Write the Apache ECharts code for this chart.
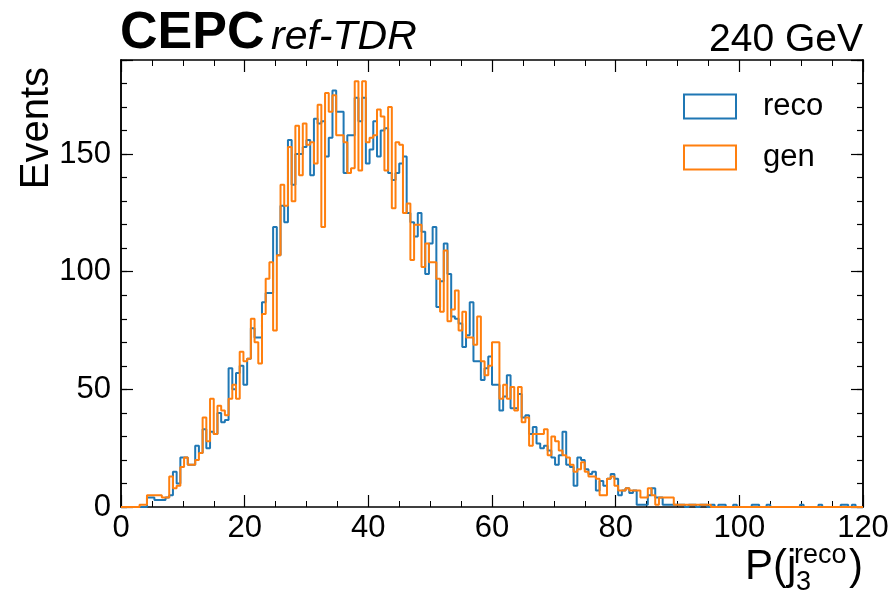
<!DOCTYPE html>
<html><head><meta charset="utf-8">
<script src="https://cdn.jsdelivr.net/npm/echarts@6/dist/echarts.min.js"></script>
<style>html,body{margin:0;padding:0;background:#fff}#c{width:895px;height:593px}</style>
</head><body><div id="c"></div>
<script>
const BIN_WIDTH = 0.6;
const X_MIN = 0, X_MAX = 120;
const Y_MIN = 0, Y_MAX = 190;
const xTicks = [0, 20, 40, 60, 80, 100, 120];
const yTicks = [0, 50, 100, 150];
const seriesNames = ['reco', 'gen'];

const recoCounts = [
  0,0,0,0,0,0,0,4,4,3,
  3,3,4,5,15,10,21,21,18,18,
  26,23,33,25,32,31,40,36,37,59,
  50,57,60,52,63,76,72,72,87,91,
  91,119,107,128,121,156,137,150,150,153,
  156,141,165,163,164,149,157,177,168,168,
  142,158,158,174,164,174,146,152,164,149,
  160,161,142,139,142,146,149,125,121,115,
  125,117,99,112,119,85,96,112,99,81,
  80,78,68,73,87,62,62,54,59,64,
  52,52,41,47,56,42,42,48,38,39,
  31,34,27,25,26,24,21,18,22,32,
  18,17,9,21,20,16,14,15,7,11,
  9,12,14,12,5,7,8,6,7,1,
  1,1,5,8,4,4,1,1,1,1,
  1,1,0,1,1,0,1,1,0,1,
  0,1,1,0,0,1,0,0,0,0,
  1,1,0,0,1,0,0,0,0,0,
  0,0,0,1,0,0,0,0,1,0,
  0,0,0,0,1,1,0,1,0,0
];

const genCounts = [
  0,0,0,0,0,1,1,5,5,5,
  5,4,4,13,8,9,17,21,18,18,
  20,23,38,28,46,31,43,41,39,46,
  52,46,66,62,63,80,70,61,82,97,
  104,75,107,137,128,153,130,162,141,163,
  154,155,146,171,119,176,168,175,158,158,
  155,142,144,181,143,181,155,157,158,169,
  166,143,170,127,155,154,125,129,105,120,
  120,102,112,104,104,97,83,109,79,84,
  92,75,83,72,72,69,81,62,56,60,
  70,70,46,52,46,51,41,51,36,38,
  26,31,31,31,33,22,30,28,24,22,
  21,18,15,16,19,15,13,13,12,5,
  5,12,13,9,7,7,8,7,7,7,
  4,4,8,5,1,4,4,4,4,1,
  1,1,1,1,1,1,1,1,1,0,
  0,0,0,0,0,0,0,0,0,0,
  0,0,0,0,0,0,0,0,0,0,
  0,0,0,0,0,0,0,0,0,0,
  0,0,0,0,0,0,0,0,0,0
];

const COLORS = { reco: '#1f77b4', gen: '#ff7f0e' };
const FONT = '"Liberation Sans", Arial, sans-serif';

function toSteps(counts) {
  const pts = counts.map((v, i) => [Math.round(i * BIN_WIDTH * 100) / 100, v]);
  pts.push([X_MAX, counts[counts.length - 1]]);
  return pts;
}

function xAx(pos, labels) {
  return {
    type: 'value', position: pos, min: X_MIN, max: X_MAX, interval: 20,
    axisLine: { show: true, onZero: false, lineStyle: { color: '#000', width: 1.5 } },
    axisTick: { show: true, inside: true, length: 12, lineStyle: { color: '#000', width: 1.2 } },
    minorTick: { show: true, splitNumber: 4, length: 6, lineStyle: { color: '#000', width: 1 } },
    splitLine: { show: false }, minorSplitLine: { show: false },
    axisLabel: { show: labels, color: '#000', fontSize: 31, fontFamily: FONT, margin: 6,
      formatter: v => xTicks.includes(v) ? String(v) : '' }
  };
}
function yAx(pos, interval, tickLen, labels) {
  return {
    type: 'value', position: pos, min: Y_MIN, max: Y_MAX, interval: interval,
    axisLine: { show: true, onZero: false, lineStyle: { color: '#000', width: 1.5 } },
    axisTick: { show: true, inside: true, length: tickLen, lineStyle: { color: '#000', width: 1.2 } },
    splitLine: { show: false },
    axisLabel: { show: labels, interval: 0, color: '#000', fontSize: 31, fontFamily: FONT, margin: 10,
      formatter: v => yTicks.includes(v) ? String(v) : '' }
  };
}

const chart = echarts.init(document.getElementById('c'), null, { renderer: 'canvas' });
chart.setOption({
  animation: false,
  backgroundColor: '#fff',
  grid: { left: 121, right: 32, top: 60, bottom: 86, containLabel: false },
  xAxis: [xAx('bottom', true), xAx('top', false)],
  yAxis: [yAx('left', 10, 6, true), yAx('left', 50, 12, false), yAx('right', 10, 6, false), yAx('right', 50, 12, false)],
  legend: {
    orient: 'vertical', left: 683, top: 91, padding: 0, itemWidth: 52, itemHeight: 24, itemGap: 20,
    textStyle: { fontSize: 31, fontFamily: FONT, color: '#000', padding: [0, 0, 0, 22] },
    data: seriesNames.map(n => ({ name: n, icon: 'rect',
      itemStyle: { color: 'rgba(0,0,0,0)', borderColor: COLORS[n], borderWidth: 2 } }))
  },
  series: [
    { type: 'line', name: 'reco', step: 'end', xAxisIndex: 0, yAxisIndex: 0, data: toSteps(recoCounts),
      symbol: 'none', showSymbol: false, lineStyle: { color: COLORS.reco, width: 2 }, itemStyle: { color: COLORS.reco } },
    { type: 'line', name: 'gen', step: 'end', xAxisIndex: 0, yAxisIndex: 0, data: toSteps(genCounts),
      symbol: 'none', showSymbol: false, lineStyle: { color: COLORS.gen, width: 2 }, itemStyle: { color: COLORS.gen } }
  ],
  graphic: [
    { type: 'text', x: 120, y: 34, style: { text: 'CEPC', font: 'bold 52px ' + FONT, fill: '#000', align: 'left', verticalAlign: 'middle' } },
    { type: 'text', x: 271, y: 38, style: { text: 'ref-TDR', font: 'italic 41px ' + FONT, fill: '#000', align: 'left', verticalAlign: 'middle' } },
    { type: 'text', x: 863, y: 40, style: { text: '240 GeV', font: '39px ' + FONT, fill: '#000', align: 'right', verticalAlign: 'middle' } },
    { type: 'text', x: 37, y: 67, rotation: Math.PI / 2, style: { text: 'Events', font: '40px ' + FONT, fill: '#000', align: 'right', verticalAlign: 'middle' } },
    { type: 'text', x: 745, y: 567, style: { text: 'P(j', font: '42px ' + FONT, fill: '#000', align: 'left', verticalAlign: 'middle' } },
    { type: 'text', x: 794, y: 556, style: { text: 'reco', font: '27px ' + FONT, fill: '#000', align: 'left', verticalAlign: 'middle' } },
    { type: 'text', x: 796, y: 583, style: { text: '3', font: '27px ' + FONT, fill: '#000', align: 'left', verticalAlign: 'middle' } },
    { type: 'text', x: 863, y: 567, style: { text: ')', font: '42px ' + FONT, fill: '#000', align: 'right', verticalAlign: 'middle' } }
  ]
});
</script>
</body></html>
